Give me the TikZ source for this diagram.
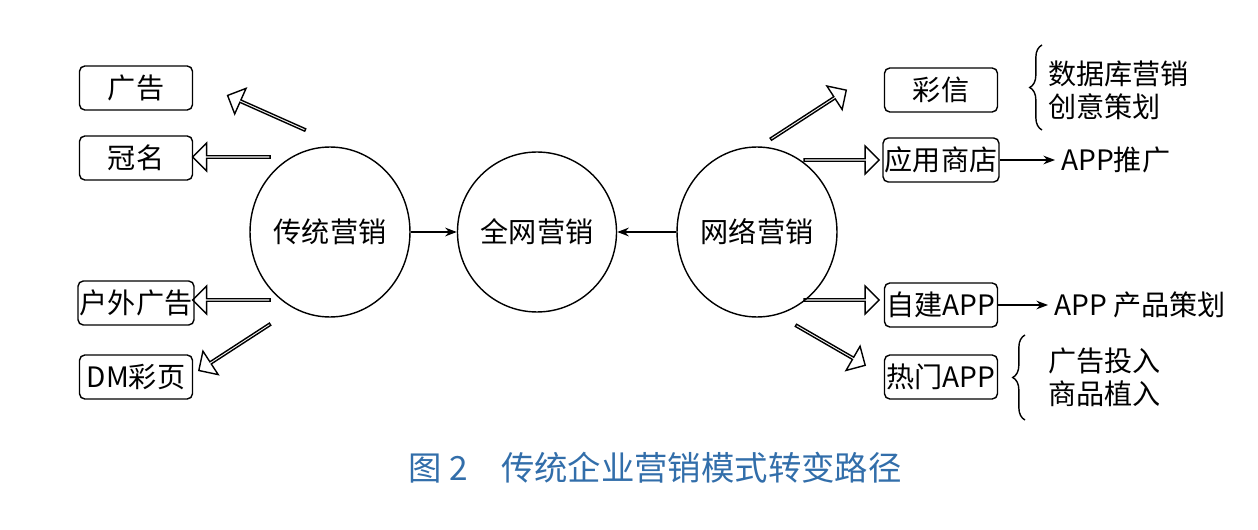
\documentclass[tikz,border=0pt]{standalone}
\usepackage{fontspec}
\setmainfont{Liberation Serif}
\newfontfamily\cjk{Noto Sans CJK SC}
\usetikzlibrary{shapes.geometric, shapes.arrows, arrows.meta, decorations.pathreplacing}

\begin{document}
\begin{tikzpicture}[
        x=0.02cm, y=-0.02cm,
        font=\cjk\fontsize{16}{19}\selectfont,
        >=Stealth,
        % styles
        itemBox/.style={draw, thick, rounded corners=3pt, minimum width=2.26cm, minimum height=0.88cm, inner sep=1pt},
        modeEllipse/.style={draw, thick, ellipse, minimum width=3.2cm, minimum height=3.4cm, inner sep=0pt},
        hollowArrow/.style={draw, thick, single arrow, single arrow head extend=0.14cm, minimum width=0.56cm, inner sep=0pt, anchor=center},
        conn/.style={->, thick},
        sideBrace/.style={thick, decorate, decoration={brace, amplitude=7pt}}
    ]
    \useasboundingbox (0,0) rectangle (1258,530);

    % ellipses
    \node [modeEllipse] (trad) at (330,232) {传统营销};
    \node [modeEllipse, minimum width=3.0cm, minimum height=3.2cm] (whole) at (537,232) {全网营销};
    \node [modeEllipse] (net) at (757,232) {网络营销};

    % left boxes
    \node [itemBox] (ad) at (136,88) {广告};
    \node [itemBox] (title) at (136,158) {冠名};
    \node [itemBox] (outdoor) at (136,303) {户外广告};
    \node [itemBox] (dm) at (136,377) {DM彩页};

    % right boxes
    \node [itemBox] (mms) at (941,90) {彩信};
    \node [itemBox] (store) at (941,160) {应用商店};
    \node [itemBox] (ownapp) at (941,305) {自建APP};
    \node [itemBox] (hotapp) at (941,377) {热门APP};

    % texts
    \node [anchor=west] (promo) at (1055,160) {APP推广};
    \node [anchor=west] (plan) at (1048,305) {APP 产品策划};
    \node [anchor=west, align=left] (dbtext) at (1042,90) {数据库营销\\创意策划};
    \node [anchor=west, align=left] (adtext) at (1042,377) {广告投入\\商品植入};

    % hollow arrows
    \node [hollowArrow, minimum height=1.7cm, rotate=156] (a1) at (267,113) {};
    \node [hollowArrow, minimum height=1.55cm, rotate=180] (a2) at (232,157) {};
    \node [hollowArrow, minimum height=1.55cm, rotate=180] (a3) at (232,300) {};
    \node [hollowArrow, minimum height=1.7cm, rotate=213] (a4) at (235,347) {};
    \node [hollowArrow, minimum height=1.8cm, rotate=33] (a5) at (808,115) {};
    \node [hollowArrow, minimum height=1.5cm] (a6) at (841,160) {};
    \node [hollowArrow, minimum height=1.5cm] (a7) at (841,300) {};
    \node [hollowArrow, minimum height=1.6cm, rotate=-30] (a8) at (830,345) {};

    % connections
    \draw [conn] (trad) -- (whole);
    \draw [conn] (net) -- (whole);
    \draw [conn] (store) -- (promo);
    \draw [conn] (ownapp) -- (plan);

    % braces
    \draw [sideBrace] (1042,130) -- (1042,45);
    \draw [sideBrace] (1025,420) -- (1025,335);

    % caption
    \node [text={rgb,255:red,50;green,110;blue,170}, font=\cjk\fontsize{19}{22}\selectfont] (caption) at (655,468) {图 2\quad 传统企业营销模式转变路径};
\end{tikzpicture}
\end{document}
